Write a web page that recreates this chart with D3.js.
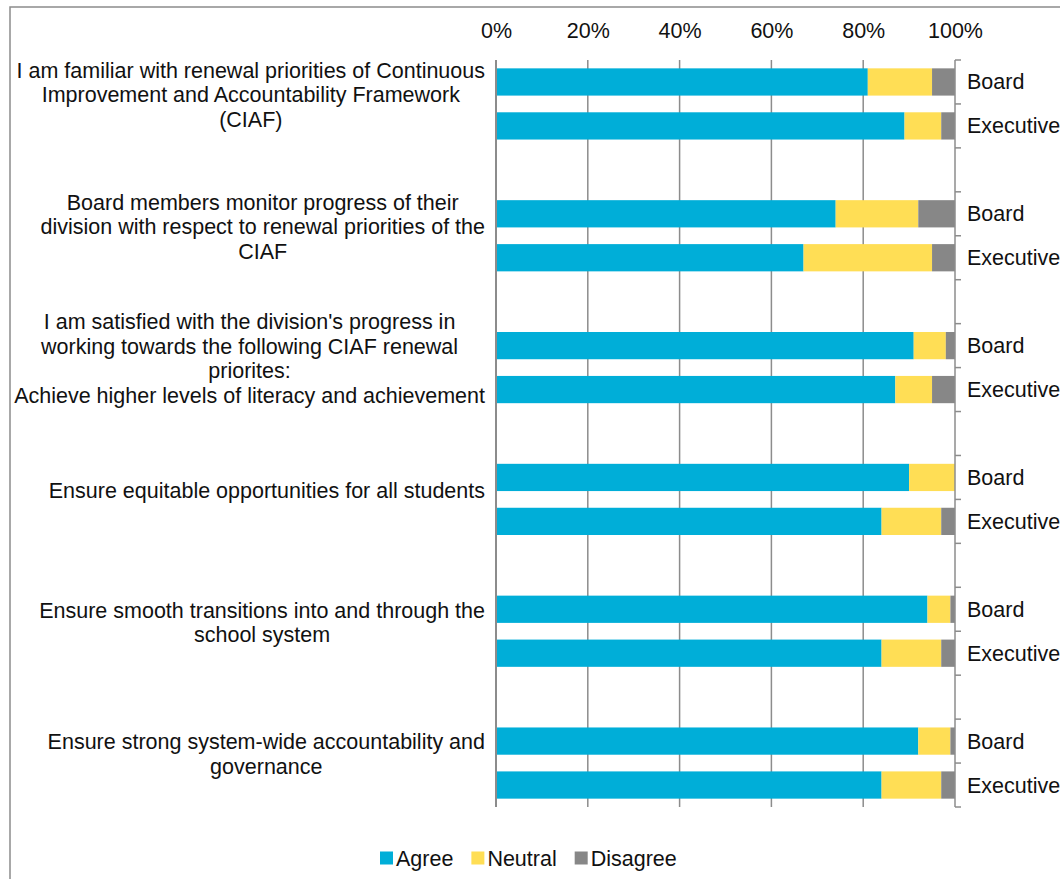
<!DOCTYPE html>
<html>
<head>
<meta charset="utf-8">
<script src="https://cdn.jsdelivr.net/npm/d3@7"></script>
<style>
  body { margin: 0; background: #fff; }
  text { font-family: "Liberation Sans", Arial, Helvetica, sans-serif; fill: #111; }
</style>
</head>
<body>
<div id="chart-area"></div>
<script>
// questions (each one has a Board and an Executive row)
const questions = [
    ["I am familiar with renewal priorities of Continuous", "Improvement and Accountability Framework", "(CIAF)"],
    ["Board members monitor progress of their", "division with respect to renewal priorities of the", "CIAF"],
    ["I am satisfied with the division's progress in", "working towards the following CIAF renewal", "priorites:", "Achieve higher levels of literacy and achievement"],
    ["Ensure equitable opportunities for all students"],
    ["Ensure smooth transitions into and through the", "school system"],
    ["Ensure strong system-wide accountability and", "governance"]
];
const respondents = ["Board", "Executive"];
const seriesNames = ["Agree", "Neutral", "Disagree"];
const seriesColors = ["#00AED8", "#FFDE55", "#878787"];

// percentages, row order: Q1 Board, Q1 Executive, Q2 Board, ...
const agree    = [81, 89, 74, 67, 91, 87, 90, 84, 94, 84, 92, 84];
const neutral  = [14,  8, 18, 28,  7,  8, 10, 13,  5, 13,  7, 13];
const disagree = [ 5,  3,  8,  5,  2,  5,  0,  3,  1,  3,  1,  3];
const xTicks = [0, 20, 40, 60, 80, 100];

const config = {
    width: 1060,
    height: 879,
    left: 496, right: 955, top: 60, bottom: 807,
    fontSize: '21.5px'
};

const svg = d3.select('#chart-area')
    .append('svg')
    .attr('width', config.width)
    .attr('height', config.height);

// outer frame
svg.append('rect')
    .attr('x', 10).attr('y', 7)
    .attr('width', 1200).attr('height', 1000)
    .attr('fill', 'none')
    .attr('stroke', '#8c8c8c')
    .attr('stroke-width', 1.5);

// rows: Board, Executive, spacer ... (no spacer after last question)
const rows = [];
questions.forEach((q, qi) => {
    respondents.forEach((r, ri) => {
        const i = qi * 2 + ri;
        rows.push({ key: `q${qi}-${r}`, q: qi, who: r, values: [agree[i], neutral[i], disagree[i]] });
    });
    if (qi < questions.length - 1) rows.push({ key: `q${qi}-gap`, q: qi, who: null });
});
const dataRows = rows.filter(d => d.who);

const xScale = d3.scaleLinear().domain([0, 100]).range([config.left, config.right]);
const yScale = d3.scaleBand()
    .domain(rows.map(d => d.key))
    .range([config.top, config.bottom]);
const bw = yScale.bandwidth();
const barH = bw * 0.62;

// gridlines
svg.append('g')
    .selectAll('line')
    .data(xTicks.slice(1, -1))
    .join('line')
    .attr('x1', d => xScale(d)).attr('x2', d => xScale(d))
    .attr('y1', config.top).attr('y2', config.bottom)
    .attr('stroke', '#8c8c8c')
    .attr('stroke-width', 1.5);

// top axis labels
const xAxis = d3.axisTop(xScale).tickValues(xTicks).tickFormat(d => d + '%').tickSize(0);
const xAxisGroup = svg.append('g')
    .attr('transform', 'translate(0, 41)')
    .call(xAxis);
xAxisGroup.select('.domain').remove();
xAxisGroup.selectAll('text')
    .attr('dy', 0)
    .style('font-size', config.fontSize)
    .style('font-family', '"Liberation Sans", Arial, sans-serif')
    .style('fill', '#111');

// stacked bars
const stackData = dataRows.map(d => {
    let acc = 0;
    return d.values.map((v, si) => {
        const s = { key: d.key, si, x0: acc, x1: acc + v };
        acc += v;
        return s;
    });
}).flat();

svg.append('g')
    .selectAll('rect')
    .data(stackData)
    .join('rect')
    .attr('x', d => xScale(d.x0))
    .attr('y', d => yScale(d.key) + (bw - barH) / 2)
    .attr('width', d => xScale(d.x1) - xScale(d.x0))
    .attr('height', barH)
    .attr('fill', d => seriesColors[d.si]);

// left axis line
svg.append('line')
    .attr('x1', config.left).attr('x2', config.left)
    .attr('y1', config.top).attr('y2', config.bottom)
    .attr('stroke', '#8c8c8c').attr('stroke-width', 2);

// right axis with ticks at every row boundary
svg.append('line')
    .attr('x1', config.right).attr('x2', config.right)
    .attr('y1', config.top).attr('y2', config.bottom)
    .attr('stroke', '#8c8c8c').attr('stroke-width', 1.5);
const boundaries = rows.map(d => yScale(d.key)).concat([config.bottom]);
svg.append('g')
    .selectAll('line')
    .data(boundaries)
    .join('line')
    .attr('x1', config.right).attr('x2', config.right + 6)
    .attr('y1', d => d).attr('y2', d => d)
    .attr('stroke', '#8c8c8c').attr('stroke-width', 1.5);

// right labels
svg.append('g')
    .selectAll('text')
    .data(dataRows)
    .join('text')
    .attr('x', config.right + 12)
    .attr('y', d => yScale(d.key) + bw / 2)
    .attr('dy', '0.35em')
    .style('font-size', config.fontSize)
    .text(d => d.who);

// question labels: block right-aligned, lines centred within the block
const lineH = 24.5;
questions.forEach((lines, qi) => {
    const yMid = (yScale(`q${qi}-Board`) + yScale(`q${qi}-Executive`) + bw) / 2 - 9;
    const g = svg.append('g');
    const texts = g.selectAll('text')
        .data(lines)
        .join('text')
        .attr('y', (d, i) => yMid + (i - (lines.length - 1) / 2) * lineH)
        .attr('dy', '0.35em')
        .attr('text-anchor', 'middle')
        .style('font-size', config.fontSize)
        .text(d => d);
    let maxW = 0;
    texts.each(function () { maxW = Math.max(maxW, this.getComputedTextLength()); });
    texts.attr('x', 485 - maxW / 2);
});

// legend
const legend = svg.append('g').attr('transform', 'translate(380, 858)');
let lx = 0;
seriesNames.forEach((name, i) => {
    const item = legend.append('g').attr('transform', `translate(${lx}, 0)`);
    item.append('rect')
        .attr('x', 0).attr('y', -6.5)
        .attr('width', 13).attr('height', 13)
        .attr('fill', seriesColors[i]);
    const t = item.append('text')
        .attr('x', 16).attr('dy', '0.35em')
        .style('font-size', config.fontSize)
        .text(name);
    lx += 16 + t.node().getComputedTextLength() + 18;
});
</script>
</body>
</html>
